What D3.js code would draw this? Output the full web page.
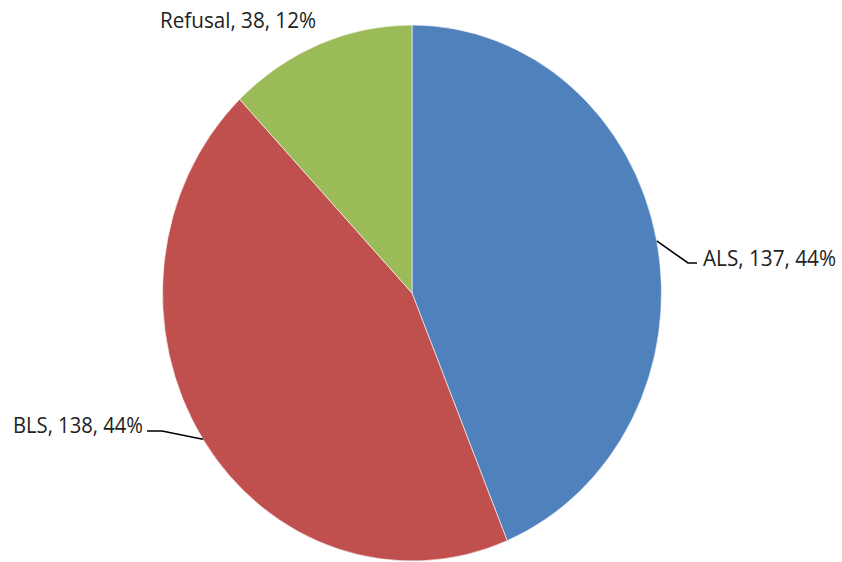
<head>
  <title>ALS / BLS / Refusal</title>
</head>
<body style="margin:0;background:#fff">
  <script src="https://d3js.org/d3.v7.min.js"></script>
  <style>
    .label { font-family: "Open Sans", sans-serif; font-size: 21px; fill: #222; }
    .leader { fill: none; stroke: #000; stroke-width: 1.6; }
  </style>
  <script>
    const categories = ["ALS", "BLS", "Refusal"];
    const counts = [137, 138, 38];
    const percents = ["44%", "44%", "12%"];
    const colors = ["#4F81BD", "#C0504D", "#9BBB59"];

    const W = 842, H = 562;
    const cx = 412, cy = 293, rx = 249.5, ry = 268;

    const svg = d3.select("body").append("svg")
      .attr("width", W).attr("height", H);

    const pie = d3.pie().sort(null).value(d => d.v);
    const arcs = pie(categories.map((c, i) => ({c: c, v: counts[i], i: i})));
    const arc = d3.arc().innerRadius(0).outerRadius(ry);

    const g = svg.append("g")
      .attr("transform", "translate(" + cx + "," + cy + ") scale(" + (rx / ry) + ",1)");

    g.selectAll("path")
      .data(arcs)
      .enter().append("path")
      .attr("d", arc)
      .style("fill", d => colors[d.data.i])
      .style("stroke", "#fff")
      .style("stroke-width", 0.6)
      .attr("vector-effect", "non-scaling-stroke");

    // point on the ellipse edge at the middle of a slice
    function edge(d) {
      const a = (d.startAngle + d.endAngle) / 2;
      return [cx + rx * Math.sin(a), cy - ry * Math.cos(a)];
    }

    // label layout: elbow/end of leader, text anchor point
    const layout = [
      {elbow: [688, 263], end: [697, 263], tx: 703, ty: 266, anchor: "start", len: 133},
      {elbow: [162, 431], end: [147, 431], tx: 143, ty: 433, anchor: "end", len: 130},
      {elbow: null, end: null, tx: 160, ty: 28, anchor: "start", len: 156}
    ];

    arcs.forEach((d, i) => {
      const L = layout[i];
      if (L.elbow) {
        svg.append("path")
          .attr("class", "leader")
          .attr("d", d3.line()([edge(d), L.elbow, L.end]));
      }
      svg.append("text")
        .attr("class", "label")
        .attr("x", L.tx)
        .attr("y", L.ty)
        .attr("text-anchor", L.anchor)
        .attr("textLength", L.len)
        .attr("lengthAdjust", "spacingAndGlyphs")
        .text(categories[i] + ", " + counts[i] + ", " + percents[i]);
    });
  </script>
</body>
